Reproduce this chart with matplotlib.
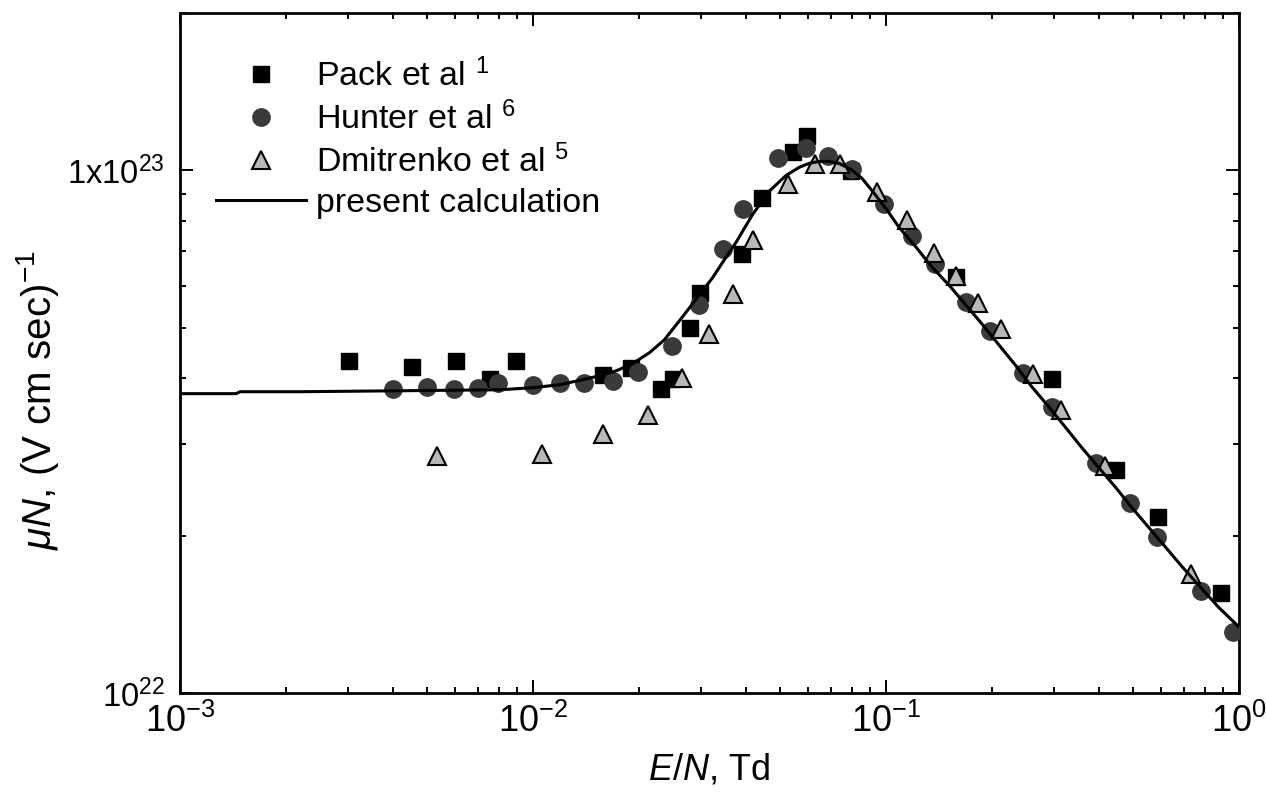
import matplotlib
matplotlib.use("Agg")
import matplotlib.pyplot as plt
from matplotlib.ticker import LogLocator, NullFormatter

plt.rcParams['font.family'] = ['Liberation Sans', 'DejaVu Sans']
plt.rcParams['mathtext.fontset'] = 'custom'
plt.rcParams['mathtext.rm'] = 'Liberation Sans'
plt.rcParams['mathtext.it'] = 'Liberation Sans:italic'
plt.rcParams['mathtext.bf'] = 'Liberation Sans:bold'

# Pack et al (squares)
pack_x = [0.00301, 0.00453, 0.00604, 0.00754, 0.00897, 0.0158, 0.0190, 0.0230, 0.0249,
          0.0279, 0.0298, 0.0392, 0.0446, 0.0546, 0.0598, 0.0796, 0.158, 0.295, 0.448,
          0.588, 0.887]
pack_y = [4.31e22, 4.21e22, 4.31e22, 3.99e22, 4.31e22, 4.06e22, 4.19e22, 3.82e22, 3.99e22,
          4.99e22, 5.82e22, 6.92e22, 8.85e22, 1.086e23, 1.161e23, 9.96e22, 6.25e22, 3.99e22,
          2.67e22, 2.17e22, 1.55e22]

# Hunter et al (circles)
hunter_x = [0.00401, 0.00500, 0.00596, 0.00697, 0.00794, 0.00997, 0.0119, 0.0139, 0.0169,
            0.0198, 0.0247, 0.0296, 0.0346, 0.0394, 0.0494, 0.0594, 0.0686, 0.0801, 0.0987,
            0.1185, 0.1377, 0.168, 0.197, 0.244, 0.295, 0.393, 0.490, 0.585, 0.778, 0.964]
hunter_y = [3.82e22, 3.85e22, 3.82e22, 3.84e22, 3.91e22, 3.89e22, 3.91e22, 3.91e22, 3.95e22,
            4.12e22, 4.61e22, 5.52e22, 7.06e22, 8.43e22, 1.054e23, 1.102e23, 1.064e23, 1.004e23,
            8.61e22, 7.48e22, 6.62e22, 5.60e22, 4.93e22, 4.10e22, 3.52e22, 2.76e22, 2.31e22,
            1.99e22, 1.57e22, 1.31e22]

# Dmitrenko et al (triangles)
dmit_x = [0.00533, 0.01057, 0.0158, 0.0211, 0.0265, 0.0316, 0.0369, 0.0421, 0.0528, 0.0630,
          0.0741, 0.0944, 0.1146, 0.1367, 0.158, 0.182, 0.211, 0.261, 0.313, 0.417, 0.729]
dmit_y = [2.84e22, 2.87e22, 3.13e22, 3.41e22, 4.01e22, 4.87e22, 5.80e22, 7.34e22, 9.40e22,
          1.026e23, 1.026e23, 9.08e22, 8.03e22, 6.95e22, 6.28e22, 5.57e22, 4.98e22, 4.08e22,
          3.48e22, 2.72e22, 1.69e22]

# present calculation
calc_x = [0.001, 0.00144, 0.00148, 0.00219, 0.00419, 0.00804, 0.00997, 0.01189, 0.0138,
          0.01542, 0.01722, 0.01912, 0.02136, 0.02355, 0.02597, 0.02901, 0.0322, 0.03479,
          0.03764, 0.04177, 0.04667, 0.05213, 0.05675, 0.06056, 0.06463, 0.06899, 0.07362,
          0.0796, 0.0855, 0.0925, 0.1007, 0.1088, 0.1216, 0.1349, 0.1508, 0.1683, 0.1869,
          0.2088, 0.2333, 0.2588, 0.2891, 0.3229, 0.3584, 0.4004, 0.4472, 0.4965, 0.5546,
          0.6196, 0.6878, 0.7683, 0.8748, 1.0]
calc_y = [3.738e22, 3.738e22, 3.77e22, 3.77e22, 3.786e22, 3.803e22, 3.837e22, 3.888e22,
          3.974e22, 4.045e22, 4.135e22, 4.265e22, 4.476e22, 4.738e22, 5.151e22, 5.673e22,
          6.22e22, 6.734e22, 7.29e22, 8.21e22, 9.12e22, 9.78e22, 1.013e23, 1.031e23,
          1.040e23, 1.040e23, 1.031e23, 1.004e23, 9.65e22, 9.04e22, 8.39e22, 7.78e22,
          7.13e22, 6.53e22, 6.03e22, 5.526e22, 5.084e22, 4.634e22, 4.227e22, 3.853e22,
          3.529e22, 3.218e22, 2.948e22, 2.70e22, 2.473e22, 2.265e22, 2.074e22, 1.90e22,
          1.748e22, 1.608e22, 1.459e22, 1.337e22]

fig = plt.figure(figsize=(12.66, 8), dpi=100)
ax = fig.add_axes([0.1422, 0.1338, 0.8365, 0.85])

ax.plot(pack_x, pack_y, linestyle='none', marker='s', ms=11.5, color='black',
        label='Pack et al $^{1}$', zorder=3)
ax.plot(hunter_x, hunter_y, linestyle='none', marker='o', ms=12.5, color='#3a3a3a',
        label='Hunter et al $^{6}$', zorder=4)
ax.plot(dmit_x, dmit_y, linestyle='none', marker='^', ms=13.5, markerfacecolor='#b8b8b8',
        markeredgecolor='black', markeredgewidth=1.5, label='Dmitrenko et al $^{5}$', zorder=5)
ax.plot(calc_x, calc_y, color='black', lw=2.2, label='present calculation', zorder=6)

ax.set_xscale('log')
ax.set_yscale('log')
ax.set_xlim(1e-3, 1)
ax.set_ylim(1e22, 2e23)

ax.set_xticks([1e-3, 1e-2, 1e-1, 1])
ax.set_xticklabels(['10$^{-3}$', '10$^{-2}$', '10$^{-1}$', '10$^{0}$'])
ax.xaxis.set_minor_locator(LogLocator(base=10, subs=range(2, 10)))
ax.xaxis.set_minor_formatter(NullFormatter())
ax.set_yticks([1e22, 1e23])
ax.set_yticklabels(['10$^{22}$', '1x10$^{23}$'])
ax.yaxis.set_minor_locator(LogLocator(base=10, subs=range(2, 10)))
ax.yaxis.set_minor_formatter(NullFormatter())

ax.tick_params(which='both', direction='in', top=True, right=True, width=1.4)
ax.tick_params(which='major', length=9.5)
ax.tick_params(which='minor', length=4.5)
ax.tick_params(axis='x', which='major', labelsize=26, pad=8)
ax.tick_params(axis='y', which='major', labelsize=23.5, pad=11)
for sp in ax.spines.values():
    sp.set_linewidth(2)

ax.set_xlabel('$E$/$N$, Td', fontsize=26, labelpad=9)
ax.set_ylabel(r'$\mu N$, (V cm sec)$^{-1}$', fontsize=29)
ax.yaxis.set_label_coords(-0.112, 0.43)

ax.legend(loc='upper left', bbox_to_anchor=(0.018, 0.958), frameon=False, fontsize=24.5,
          handlelength=2.65, handletextpad=0.29, labelspacing=0.25, borderpad=0, numpoints=1)

fig.savefig('out.png', dpi=100)
